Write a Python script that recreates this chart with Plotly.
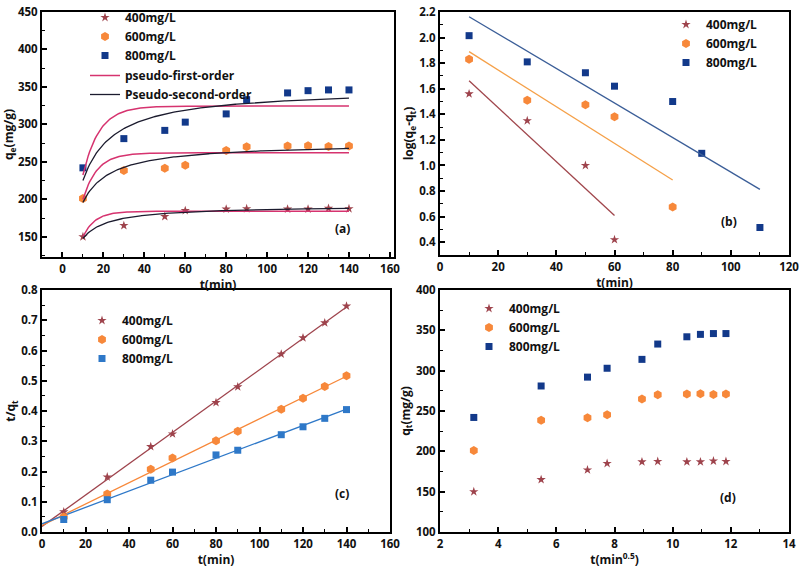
import numpy as np
import plotly.graph_objects as go

# ---------------- data ----------------
t = [10, 30, 50, 60, 80, 90, 110, 120, 130, 140]
q400 = [150, 165, 177, 185, 187, 187.5, 187, 187, 188, 187.5]
q600 = [201, 238.5, 241.5, 245.5, 265, 270, 271, 271.5, 270.5, 271]
q800 = [242, 281, 292, 303, 314, 333, 342, 345, 346, 346]

# pseudo-first-order parameters (qe, k1)
pfo_400 = (184.0, 0.169)
pfo_600 = (262.0, 0.144)
pfo_800 = (324.5, 0.126)
# pseudo-second-order parameters (qe, qe*k2)
pso_400 = (191.9, 0.337)
pso_600 = (275.7, 0.2458)
pso_800 = (348.0, 0.183)

# panel (b): log(qe - qt)
tb400 = [10, 30, 50, 60]
lb400 = [1.56, 1.35, 1.00, 0.42]
tb600 = [10, 30, 50, 60, 80]
lb600 = [1.83, 1.51, 1.475, 1.38, 0.675]
tb800 = [10, 30, 50, 60, 80, 90, 110]
lb800 = [2.015, 1.81, 1.725, 1.62, 1.50, 1.095, 0.515]

labels = ["400mg/L", "600mg/L", "800mg/L"]

C400 = "#9E434C"
C600 = "#F7883A"
C800 = "#12398A"
C800c = "#2E78C8"
CPFO = "#D6336F"
CPSO = "#1B1B2E"
LB400 = "#A0464C"
LB600 = "#F5A048"
LB800 = "#3B5E98"

FONT = "Open Sans"

fig = go.Figure()

tt = np.linspace(10, 140, 200)


def pfo(p):
    qe, k = p
    return qe * (1 - np.exp(-k * tt))


def pso(p):
    qe, a = p
    return qe * a * tt / (1 + a * tt)


# ---------- panel (a) ----------
sym = ["star", "hexagon", "square"]
szs = [7, 9, 7]
cols = [C400, C600, C800]
for q, lab, s, sz, c in zip([q400, q600, q800], labels, sym, szs, cols):
    fig.add_trace(go.Scatter(x=t, y=q, mode="markers", name=lab,
                             marker=dict(symbol=s, size=sz, color=c),
                             xaxis="x", yaxis="y", legend="legend"))
for i, p in enumerate([pfo_400, pfo_600, pfo_800]):
    fig.add_trace(go.Scatter(x=tt, y=pfo(p), mode="lines", name="pseudo-first-order",
                             line=dict(color=CPFO, width=1.5), showlegend=(i == 0),
                             xaxis="x", yaxis="y", legend="legend5"))
for i, p in enumerate([pso_400, pso_600, pso_800]):
    fig.add_trace(go.Scatter(x=tt, y=pso(p), mode="lines", name="Pseudo-second-order",
                             line=dict(color=CPSO, width=1.3), showlegend=(i == 0),
                             xaxis="x", yaxis="y", legend="legend5"))

# ---------- panel (b) ----------
for tx, ly, lab, s, sz, c, lc in zip([tb400, tb600, tb800], [lb400, lb600, lb800], labels,
                                     sym, szs, cols, [LB400, LB600, LB800]):
    fig.add_trace(go.Scatter(x=tx, y=ly, mode="markers", name=lab,
                             marker=dict(symbol=s, size=sz, color=c),
                             xaxis="x2", yaxis="y2", legend="legend2"))
    m, b = np.polyfit(tx, ly, 1)
    xs = np.array([tx[0], tx[-1]])
    fig.add_trace(go.Scatter(x=xs, y=m * xs + b, mode="lines", showlegend=False,
                             line=dict(color=lc, width=1.3), xaxis="x2", yaxis="y2"))

# ---------- panel (c) ----------
tarr = np.array(t, dtype=float)
for q, lab, s, sz, c in zip([q400, q600, q800], labels, sym, szs, [C400, C600, C800c]):
    y = tarr / np.array(q)
    m, b = np.polyfit(tarr, y, 1)
    xs = np.array([0, 140])
    fig.add_trace(go.Scatter(x=xs, y=m * xs + b, mode="lines", showlegend=False,
                             line=dict(color=c, width=1.3), xaxis="x3", yaxis="y3"))
for q, lab, s, sz, c in zip([q400, q600, q800], labels, sym, szs, [C400, C600, C800c]):
    y = tarr / np.array(q)
    fig.add_trace(go.Scatter(x=t, y=y, mode="markers", name=lab,
                             marker=dict(symbol=s, size=sz, color=c),
                             xaxis="x3", yaxis="y3", legend="legend3"))

# ---------- panel (d) ----------
sq = np.sqrt(tarr)
for q, lab, s, sz, c in zip([q400, q600, q800], labels, sym, szs, cols):
    fig.add_trace(go.Scatter(x=sq, y=q, mode="markers", name=lab,
                             marker=dict(symbol=s, size=sz, color=c),
                             xaxis="x4", yaxis="y4", legend="legend4"))

W, H = 802, 568


def dx(a, b):
    return [a / W, b / W]


def dy(top, bot):
    return [(H - bot) / H, (H - top) / H]


tickf = dict(family=FONT, size=11.5, color="#111", weight="bold")
titf = dict(family=FONT, size=12, color="#111", weight="bold")


def ax(dom, rng, dt, mdt, title, anchor, standoff, fmt=None):
    d = dict(domain=dom, range=rng, dtick=dt, tick0=0, showline=True, mirror=True,
             linecolor="black", linewidth=2, ticks="inside", ticklen=5, tickwidth=1.5,
             tickcolor="black", showgrid=False, zeroline=False, tickfont=tickf,
             automargin=False,
             minor=dict(ticks="inside", ticklen=3, tickwidth=1.2, dtick=mdt, tickcolor="black"),
             title=dict(text=title, font=titf, standoff=standoff), anchor=anchor)
    if fmt:
        d["tickformat"] = fmt
    return d


xa1 = dx(42, 394); ya1 = dy(12, 257)
xa2 = dx(440, 789); ya2 = dy(12, 255)
xa3 = dx(42, 390); ya3 = dy(290, 532)
xa4 = dx(440, 789); ya4 = dy(290, 532)

leg = dict(bgcolor="rgba(0,0,0,0)", font=dict(family=FONT, size=12, color="#111", weight="bold"),
           xanchor="left", yanchor="top", tracegroupgap=0)

fig.update_layout(
    width=W, height=H, margin=dict(l=0, r=0, t=0, b=0, autoexpand=False),
    plot_bgcolor="white", paper_bgcolor="white",
    xaxis=ax(xa1, [-10, 162], 20, 10, "t(min)", "y", 0),
    yaxis=ax(ya1, [123, 450], 50, 25, "q<sub>e</sub>(mg/g)", "x", 3),
    xaxis2=ax(xa2, [0, 120], 20, 10, "t(min)", "y2", 0),
    yaxis2=ax(ya2, [0.3, 2.2], 0.2, 0.1, "log(q<sub>e</sub>-q<sub>t</sub>)", "x2", 3, ".1f"),
    xaxis3=ax(xa3, [0, 160], 20, 10, "t(min)", "y3", 0),
    yaxis3=ax(ya3, [0, 0.8], 0.1, 0.05, "t/q<sub>t</sub>", "x3", 3, ".1f"),
    xaxis4=ax(xa4, [2, 14], 2, 1, "t(min<sup>0.5</sup>)", "y4", 0),
    yaxis4=ax(ya4, [100, 400], 50, 25, "q<sub>t</sub>(mg/g)", "x4", 3),
    legend=dict(leg, x=85 / W, y=(H - 3) / H),
    legend5=dict(leg, x=85 / W, y=(H - 61) / H),
    legend2=dict(leg, x=666 / W, y=(H - 10) / H),
    legend3=dict(leg, x=82 / W, y=(H - 306) / H),
    legend4=dict(leg, x=469 / W, y=(H - 294) / H),
    annotations=[
        dict(text="(a)", x=137, y=161, xref="x", yref="y", showarrow=False,
             font=dict(family=FONT, size=12, color="#111", weight="bold")),
        dict(text="(b)", x=99.5, y=0.565, xref="x2", yref="y2", showarrow=False,
             font=dict(family=FONT, size=12, color="#111", weight="bold")),
        dict(text="(c)", x=138, y=0.126, xref="x3", yref="y3", showarrow=False,
             font=dict(family=FONT, size=12, color="#111", weight="bold")),
        dict(text="(d)", x=11.9, y=143, xref="x4", yref="y4", showarrow=False,
             font=dict(family=FONT, size=12, color="#111", weight="bold")),
    ],
)

fig.write_html("out.html", config={"displayModeBar": False},
               post_script="document.body.style.margin='0';")
